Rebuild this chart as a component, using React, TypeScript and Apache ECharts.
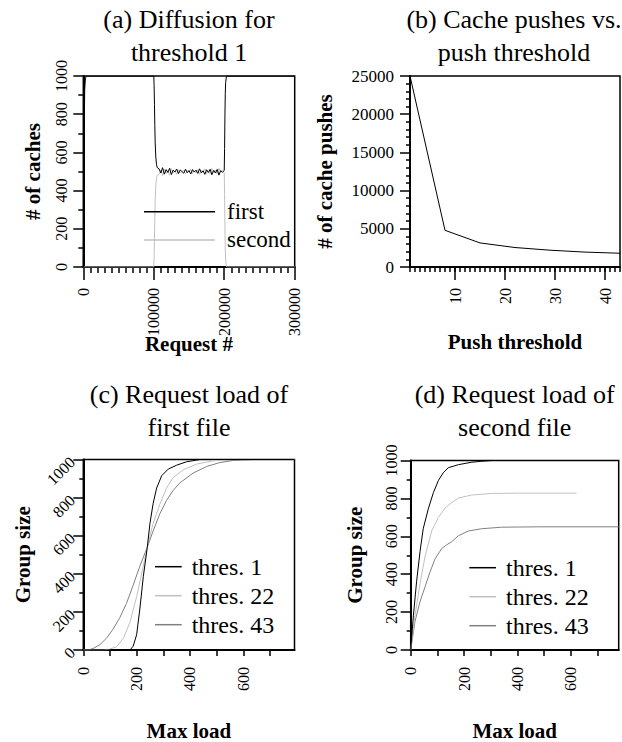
import React, { useEffect, useRef } from 'react';
import * as echarts from 'echarts';

const FONT = 'Liberation Serif';
const BLACK = '#000000';
const LIGHT = '#c0c0c0';
const MID = '#808080';

// (a) Diffusion for threshold 1
const diffRequests = [0, 1000, 2000, 3000, 4000, 6000, 100000, 100500, 101000, 101500, 102000, 103000, 104000, 105000,
  107500, 110000, 112500, 115000, 117500, 120000, 122500, 125000, 127500, 130000, 132500, 135000, 137500, 140000,
  142500, 145000, 147500, 150000, 152500, 155000, 157500, 160000, 162500, 165000, 167500, 170000, 172500, 175000,
  177500, 180000, 182500, 185000, 187500, 190000, 192500, 195000, 197500,
  200000, 200500, 201000, 201500, 202000, 203000, 204000, 300000];
const diffFirst = [0, 600, 930, 985, 998, 1000, 1000, 950, 850, 740, 650, 570, 535, 520,
  514, 492, 520, 486, 510, 495, 517, 484, 507, 497, 513, 489, 508, 500,
  491, 512, 494, 505, 487, 510, 497, 507, 490, 514, 493, 504, 485, 509,
  495, 512, 483, 506, 492, 511, 481, 505, 496,
  505, 620, 800, 910, 965, 995, 1000, 1000];
const diffSecond = [0, 0, 0, 0, 0, 0, 0, 50, 150, 260, 350, 430, 465, 480,
  485, 507, 479, 513, 490, 505, 482, 515, 493, 503, 486, 510, 492, 500,
  508, 487, 505, 495, 512, 489, 503, 493, 510, 485, 506, 496, 514, 490,
  504, 488, 516, 494, 507, 489, 517, 495, 504,
  495, 380, 200, 90, 35, 5, 0, 0];

// (b) Cache pushes vs. push threshold
const pushThresholds = [1, 8, 15, 22, 29, 36, 43];
const cachePushes = [25000, 4800, 3150, 2550, 2200, 1950, 1800];
const pushTickLabels = [10, 20, 30, 40];

// (c) Request load of first file
const c1Load = [0, 175, 187, 200, 212, 225, 240, 250, 262, 275, 294, 319, 350, 387, 437, 792];
const c1Size = [0, 0, 20, 80, 215, 385, 540, 665, 770, 850, 915, 950, 970, 988, 1000, 1000];
const c22Load = [0, 75, 100, 125, 150, 175, 200, 225, 240, 262, 287, 312, 337, 375, 425, 487, 550, 792];
const c22Size = [0, 0, 5, 17, 62, 145, 280, 440, 540, 665, 765, 850, 905, 946, 976, 993, 1000, 1000];
const c43Load = [0, 19, 37, 62, 87, 112, 137, 162, 187, 212, 240, 262, 287, 312, 337, 362, 412, 462, 512, 562, 637, 792];
const c43Size = [0, 0, 8, 28, 62, 110, 170, 245, 340, 440, 540, 625, 715, 785, 838, 877, 929, 963, 984, 995, 1000, 1000];

// (d) Request load of second file
const d1Load = [0, 10, 22, 35, 47, 66, 85, 104, 122, 141, 179, 229, 266, 304];
const d1Size = [0, 180, 360, 520, 640, 745, 830, 895, 935, 962, 978, 991, 996, 1000];
const d22Load = [0, 16, 35, 54, 79, 104, 129, 154, 179, 229, 304, 404, 622];
const d22Size = [0, 180, 350, 495, 630, 700, 750, 778, 802, 818, 826, 828, 828];
const d43Load = [0, 16, 35, 54, 72, 91, 116, 135, 154, 179, 216, 266, 341, 479, 780];
const d43Size = [0, 150, 255, 335, 410, 480, 535, 555, 572, 603, 628, 640, 648, 650, 650];

const loadTicks = [0, 100, 200, 300, 400, 500, 600, 700];
const loadLabels = [0, 200, 400, 600];

const pairs = (xs: number[], ys: number[]) => xs.map((x, i) => [x, ys[i]]);
const plain = (v: number) => String(v);

const labelFont = { fontFamily: FONT, color: BLACK, fontSize: 16, formatter: plain };
const nameFont = { fontFamily: FONT, color: BLACK, fontSize: 21, fontWeight: 'bold' as const };
const axisLine = { show: true, onZero: false, lineStyle: { color: BLACK, width: 2 } };
const tickStyle = { color: BLACK, width: 1.5 };

function App() {
  const ref = useRef<HTMLDivElement>(null);
  useEffect(() => {
    if (!ref.current) return;
    const chart = echarts.init(ref.current, undefined, { renderer: 'svg' });
    const gridBase = { show: true, borderColor: BLACK, borderWidth: 1.5, backgroundColor: 'transparent' };
    const titleStyle = { fontFamily: FONT, fontSize: 26, fontWeight: 'normal' as const, color: BLACK, lineHeight: 33 };
    const legendBase = {
      orient: 'vertical' as const, icon: 'rect', itemHeight: 1.5, itemGap: 0, padding: 0, selectedMode: false,
    };
    const nameBase = { nameLocation: 'middle', nameMoveOverlap: false, nameTextStyle: nameFont };
    const lineSeries = (name: string, color: string, xi: number, yi: number, data: number[][]) => ({
      type: 'line', name, color, xAxisIndex: xi, yAxisIndex: yi, data, symbol: 'none', showSymbol: false,
      lineStyle: { color, width: 1 }, itemStyle: { color }, z: color === BLACK ? 3 : 2,
    });
    const option: any = {
      animation: false,
      backgroundColor: '#ffffff',
      title: [
        { text: '(a) Diffusion for\nthreshold 1', left: 189, top: 3, textAlign: 'center', padding: 0, textStyle: titleStyle },
        { text: '(b) Cache pushes vs.\npush threshold', left: 514, top: 3, textAlign: 'center', padding: 0, textStyle: titleStyle },
        { text: '(c) Request load of\nfirst file', left: 189, top: 378, textAlign: 'center', padding: 0, textStyle: titleStyle },
        { text: '(d) Request load of\nsecond file', left: 514.7, top: 378, textAlign: 'center', padding: 0, textStyle: titleStyle },
      ],
      legend: [
        { ...legendBase, data: ['first', 'second'], left: 144, top: 197.5, itemWidth: 71,
          textStyle: { fontFamily: FONT, fontSize: 23, color: BLACK, lineHeight: 28.3, padding: [0, 0, 0, 7] } },
        { ...legendBase, data: ['thres. 1', 'thres. 22', 'thres. 43'], left: 155, top: 552.2, itemWidth: 26.7,
          textStyle: { fontFamily: FONT, fontSize: 24, color: BLACK, lineHeight: 29, padding: [0, 0, 0, 5] } },
        { ...legendBase, data: ['thres. 1', 'thres. 22', 'thres. 43'], left: 469.3, top: 553.2, itemWidth: 26.7,
          textStyle: { fontFamily: FONT, fontSize: 24, color: BLACK, lineHeight: 29, padding: [0, 0, 0, 5] } },
      ],
      grid: [
        { ...gridBase, left: 83.3, top: 76, width: 211.4, height: 191 },
        { ...gridBase, left: 410, top: 76, width: 210, height: 191 },
        { ...gridBase, left: 83.3, top: 459.5, width: 211.2, height: 191.5 },
        { ...gridBase, left: 410.7, top: 460.5, width: 208, height: 191 },
      ],
      xAxis: [
        {
          type: 'value', gridIndex: 0, position: 'bottom', min: 0, max: 300000, interval: 100000,
          axisLine, axisTick: { length: 13, lineStyle: tickStyle },
          minorTick: { show: true, splitNumber: 10, length: 6, lineStyle: tickStyle },
          splitLine: { show: false }, minorSplitLine: { show: false },
          axisLabel: { ...labelFont, rotate: 90, margin: 21 },
          name: 'Request #', nameGap: 66, ...nameBase,
        },
        {
          type: 'value', gridIndex: 1, position: 'bottom', min: 1, max: 43, interval: 1,
          axisLine, axisTick: { length: 5, lineStyle: tickStyle },
          splitLine: { show: false }, axisLabel: { show: false },
        },
        {
          type: 'value', gridIndex: 1, position: 'bottom', min: 1, max: 43,
          axisLine: { show: false, onZero: false },
          axisTick: { length: 13, lineStyle: tickStyle, customValues: pushTickLabels },
          splitLine: { show: false },
          axisLabel: { ...labelFont, rotate: 90, margin: 21, customValues: pushTickLabels },
          name: 'Push threshold', nameGap: 64, ...nameBase,
        },
        {
          type: 'value', gridIndex: 2, position: 'bottom', min: 0, max: 792,
          axisLine, axisTick: { length: 6, lineStyle: tickStyle, customValues: loadTicks },
          splitLine: { show: false },
          axisLabel: { ...labelFont, rotate: 90, margin: 17, customValues: loadLabels },
          name: 'Max load', nameGap: 70, ...nameBase,
        },
        {
          type: 'value', gridIndex: 3, position: 'bottom', min: 0, max: 780,
          axisLine, axisTick: { length: 6, lineStyle: tickStyle, customValues: loadTicks },
          splitLine: { show: false },
          axisLabel: { ...labelFont, rotate: 90, margin: 17, customValues: loadLabels },
          name: 'Max load', nameGap: 70, ...nameBase,
        },
      ],
      yAxis: [
        {
          type: 'value', gridIndex: 0, position: 'left', min: 0, max: 1000, interval: 200,
          axisLine, axisTick: { length: 10, lineStyle: tickStyle },
          minorTick: { show: true, splitNumber: 2, length: 5, lineStyle: tickStyle },
          splitLine: { show: false }, minorSplitLine: { show: false },
          axisLabel: { ...labelFont, rotate: 90, margin: 14 },
          name: '# of caches', nameRotate: 90, nameGap: 40, ...nameBase,
        },
        {
          type: 'value', gridIndex: 1, position: 'left', min: 0, max: 25000, interval: 5000,
          axisLine, axisTick: { length: 10, lineStyle: tickStyle },
          minorTick: { show: true, splitNumber: 5, length: 4, lineStyle: tickStyle },
          splitLine: { show: false }, minorSplitLine: { show: false },
          axisLabel: { ...labelFont, fontSize: 17, margin: 16 },
          name: '# of cache pushes', nameRotate: 90, nameGap: 75, ...nameBase,
        },
        {
          type: 'value', gridIndex: 2, position: 'left', min: 0, max: 1000, interval: 200,
          axisLine, axisTick: { length: 10, lineStyle: tickStyle },
          minorTick: { show: true, splitNumber: 2, length: 4, lineStyle: tickStyle },
          splitLine: { show: false }, minorSplitLine: { show: false },
          axisLabel: { ...labelFont, rotate: 45, margin: 11 },
          name: 'Group size', nameRotate: 90, nameGap: 50, ...nameBase,
        },
        {
          type: 'value', gridIndex: 3, position: 'left', min: 0, max: 1000, interval: 200,
          axisLine, axisTick: { length: 10, lineStyle: tickStyle },
          minorTick: { show: true, splitNumber: 2, length: 4, lineStyle: tickStyle },
          splitLine: { show: false }, minorSplitLine: { show: false },
          axisLabel: { ...labelFont, rotate: 90, margin: 11 },
          name: 'Group size', nameRotate: 90, nameGap: 45, ...nameBase,
        },
      ],
      series: [
        lineSeries('second', LIGHT, 0, 0, pairs(diffRequests, diffSecond)),
        lineSeries('first', BLACK, 0, 0, pairs(diffRequests, diffFirst)),
        lineSeries('cache pushes', BLACK, 2, 1, pairs(pushThresholds, cachePushes)),
        lineSeries('thres. 43', MID, 3, 2, pairs(c43Load, c43Size)),
        lineSeries('thres. 22', LIGHT, 3, 2, pairs(c22Load, c22Size)),
        lineSeries('thres. 1', BLACK, 3, 2, pairs(c1Load, c1Size)),
        lineSeries('thres. 43', MID, 4, 3, pairs(d43Load, d43Size)),
        lineSeries('thres. 22', LIGHT, 4, 3, pairs(d22Load, d22Size)),
        lineSeries('thres. 1', BLACK, 4, 3, pairs(d1Load, d1Size)),
      ],
    };
    chart.setOption(option);
    return () => chart.dispose();
  }, []);
  return (
    <div
      ref={ref}
      style={{ position: 'absolute', left: 0, top: 0, width: 622, height: 742, background: '#fff' }}
    />
  );
}

export default App;
